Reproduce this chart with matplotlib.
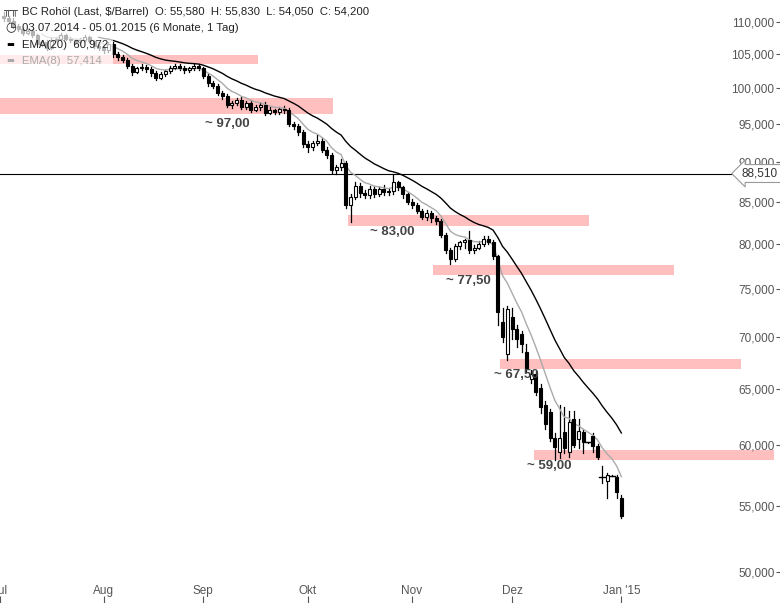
import matplotlib
matplotlib.use("Agg")
import matplotlib.pyplot as plt
import numpy as np
import pandas as pd
from matplotlib.patches import Rectangle
import matplotlib.transforms as mtrans

plt.rcParams["font.family"] = "Liberation Sans"

closes = [110.6,110.2,109.3,108.9,108.3,108.6,107.9,106.5,106.8,106.0,107.2,107.4,107.9,107.3,107.1,106.8,107.2,107.6,107.0,106.3,106.0,
          105.6,106.6,105.0,104.6,104.2,103.3,102.4,102.9,103.1,102.8,102.2,101.5,102.1,102.5,103.0,103.2,102.9,102.6,102.9,103.2,102.9,
          101.8,100.7,100.4,99.3,98.9,97.6,97.9,98.3,97.4,97.9,97.0,97.3,97.7,96.6,96.9,96.7,97.1,96.9,95.0,94.7,
          93.9,92.4,91.9,92.5,92.8,91.6,90.9,88.9,89.3,89.8,84.6,85.6,86.9,86.1,85.8,86.6,86.0,86.6,86.2,86.3,87.4,86.8,85.9,
          85.0,84.6,83.9,83.2,83.6,83.0,82.7,81.1,79.3,78.3,79.8,80.2,80.5,79.3,79.6,80.0,80.6,80.2,78.6,72.6,
          70.0,72.9,70.8,69.8,69.3,67.0,66.4,64.7,63.3,61.8,60.6,59.8,60.6,59.7,62.0,60.0,61.2,60.2,60.2,59.9,59.0,
          57.3,57.5,57.4,56.1,54.2]
opens = [111.0,110.6,110.2,109.3,108.9,108.3,108.6,107.9,106.5,106.8,106.0,107.2,107.4,107.9,107.3,107.1,106.8,107.2,107.6,107.0,106.3,
         106.0,105.6,106.6,105.0,104.6,104.2,103.3,102.4,102.9,103.1,102.8,102.2,101.5,102.1,102.5,103.0,103.2,102.9,102.6,102.9,103.2,
         102.9,101.8,100.7,100.4,99.3,98.9,97.6,97.9,98.3,97.4,97.9,97.0,97.3,97.7,96.6,96.9,96.7,97.1,96.9,95.0,
         94.7,93.9,92.4,91.9,92.5,92.8,91.6,90.9,88.9,89.3,89.8,84.6,85.6,86.9,86.1,85.8,86.6,86.0,86.6,86.2,86.3,87.4,86.8,
         85.9,85.0,84.6,83.9,83.2,83.6,83.0,82.7,81.1,79.3,78.3,79.8,80.2,80.5,79.3,79.6,80.0,80.6,80.2,78.6,
         71.5,68.3,72.1,70.8,70.3,68.5,65.9,66.4,65.1,63.5,62.9,60.6,59.4,61.1,59.4,62.3,60.5,61.1,60.2,60.8,59.9,
         57.3,57.0,57.4,57.3,55.58]
highs = [111.5,111.0,110.6,109.6,109.2,108.9,108.9,108.1,107.2,107.1,107.5,107.7,108.2,108.1,107.6,107.4,107.5,107.9,107.8,107.2,106.6,
         106.3,106.9,106.9,105.4,104.9,104.5,103.6,103.1,103.5,103.4,103.1,102.5,102.4,102.7,103.2,103.5,103.6,103.3,103.1,103.5,103.6,
         103.1,102.1,101.0,100.6,99.6,99.2,98.2,98.6,98.7,98.2,98.3,97.6,97.9,98.0,97.3,97.1,97.4,97.5,97.2,95.3,
         95.0,94.2,92.7,92.8,93.5,93.1,91.9,91.2,89.6,90.4,90.1,85.9,87.4,87.3,86.5,86.9,87.0,86.8,87.1,86.7,88.5,87.6,87.0,
         86.2,85.3,84.9,84.1,84.0,83.9,83.3,82.9,81.3,79.6,80.0,80.3,80.6,81.5,79.9,80.3,80.9,80.9,80.5,78.8,
         73.0,73.2,73.0,71.2,70.6,69.3,66.8,66.7,65.5,63.9,63.2,61.0,63.5,63.3,63.0,63.0,62.3,61.4,60.25,61.0,60.1,
         58.2,57.6,57.45,57.5,55.83]
lows = [110.2,109.8,109.0,108.6,108.0,108.1,107.6,106.2,106.3,105.7,105.8,107.0,107.2,107.1,106.9,106.5,106.6,107.0,106.8,106.0,105.6,
        105.2,105.3,104.6,104.2,103.8,103.0,102.0,102.2,102.6,102.4,101.8,101.2,101.3,101.8,102.2,102.8,102.6,102.2,102.3,102.6,102.6,
        101.5,100.4,100.1,99.0,98.5,97.3,97.2,97.6,97.1,97.1,96.7,96.8,97.0,96.2,96.4,96.4,96.4,96.6,94.8,94.3,
        93.6,92.0,91.3,91.5,92.2,91.3,90.5,88.6,88.4,88.9,84.3,82.6,85.3,85.6,85.4,85.5,85.6,85.7,85.8,85.8,86.0,86.5,85.5,
        84.7,84.2,83.6,82.9,82.8,82.6,82.3,80.8,79.0,77.8,78.1,79.4,79.6,79.0,79.0,79.4,79.8,80.0,78.3,71.2,
        69.5,67.8,69.8,69.0,68.5,66.6,65.6,64.4,62.8,61.4,60.3,58.7,58.9,59.3,59.0,59.8,59.7,59.3,60.15,59.4,58.8,
        56.8,55.6,57.35,55.6,54.05]

month_labels = ["Jul", "Aug", "Sep", "Okt", "Nov", "Dez", "Jan '15"]
month_pos = [-0.8, 21, 42, 64, 85.9, 107, 130]
ytick_vals = [50, 55, 60, 65, 70, 75, 80, 85, 90, 95, 100, 105, 110]

bands = [(-0.8, 53.5, 103.5, 104.9), (-0.8, 69.3, 96.4, 98.6), (72.5, 123.2, 82.1, 83.4),
         (90.4, 141.1, 76.5, 77.6), (104.5, 155.2, 66.9, 67.9), (111.6, 162.1, 58.7, 59.55)]
band_labels = [("~ 97,00", 42.4, 95.0), ("~ 83,00", 77.1, 81.4), ("~ 77,50", 93.1, 75.9),
               ("~ 67,50", 103.2, 66.3), ("~ 59,00", 110.1, 58.2)]
hline_val = 88.51

fig = plt.figure(figsize=(7.8, 6.03), dpi=100)
ax = fig.add_axes([0, 0, 1, 1])
ax.set_yscale("log")
ax.set_xlim(-0.8, 163.4)
ax.set_ylim(47.83, 113.5)

for x0, x1, lo, hi in bands:
    ax.add_patch(Rectangle((x0, lo), x1 - x0, hi - lo, color="#ffbfbf", lw=0, zorder=1))
for t, x, y in band_labels:
    ax.text(x, y, t, fontsize=9.5, fontweight="bold", color="#444444", va="center", ha="left", zorder=5)

ax.axhline(hline_val, color="black", lw=0.8, zorder=2)

n = len(closes)
idx = np.arange(n)
w = 0.62
for i in range(n):
    o, h, l, c = opens[i], highs[i], lows[i], closes[i]
    ax.plot([i, i], [l, h], color="black", lw=0.9, zorder=3)
    if abs(c - o) < 0.06:
        ax.plot([i - 0.6, i + 0.6], [c, c], color="black", lw=1.0, zorder=4)
        continue
    bull = c >= o
    ax.add_patch(Rectangle((i - w/2, min(o, c)), w, abs(c - o),
                           facecolor="white" if bull else "black", edgecolor="black", lw=0.8, zorder=4))

s = pd.Series(closes)
ema20 = s.ewm(span=20, adjust=False).mean()
ema8 = s.ewm(span=8, adjust=False).mean()
ax.plot(idx[20:], ema20[20:], color="black", lw=1.0, zorder=3)
ax.plot(idx[8:], ema8[8:], color="#aaaaaa", lw=1.0, zorder=3)

ax.set_yticks(ytick_vals)
ax.set_yticklabels([f"{v:d},000" for v in ytick_vals])
ax.yaxis.set_minor_locator(matplotlib.ticker.NullLocator())
ax.yaxis.tick_right()
ax.tick_params(axis="y", length=3, direction="in", pad=-4, labelsize=8.5, labelcolor="#555555", color="#555555")
for lab in ax.get_yticklabels():
    lab.set_horizontalalignment("right")
ax.set_xticks(month_pos)
ax.set_xticklabels([])
ax.tick_params(axis="x", length=5, direction="in", color="#555555")
trans = mtrans.blended_transform_factory(ax.transData, fig.transFigure)
for p, lab in zip(month_pos, month_labels):
    ax.text(p, 1 - 591/603, lab, transform=trans, ha="center", va="center", fontsize=8.5, color="#555555")
for sp in ax.spines.values():
    sp.set_visible(False)

ax.text(0.997, hline_val, "88,510", transform=ax.get_yaxis_transform(), ha="right", va="center",
        fontsize=8.5, color="#333333", zorder=6,
        bbox=dict(boxstyle="larrow,pad=0.25", fc="white", ec="#999999", lw=0.8))

# legend overlay
fig.patches.append(Rectangle((0, 1 - 68/603), 113/780, 68/603, transform=fig.transFigure,
                             facecolor="white", alpha=0.7, lw=0, zorder=10))
fs = 8.2
fig.text(22/780, 1 - 12/603, "BC Rohöl (Last, $/Barrel)  O: 55,580  H: 55,830  L: 54,050  C: 54,200",
         fontsize=fs, va="center", color="#222222", zorder=11)
fig.text(4/780, 1 - 12/603, "\u2565\u2565", fontsize=7, va="center", color="#222222", zorder=11)
fig.text(5/780, 1 - 28/603, "\u25F7", fontsize=9, va="center", color="#222222", zorder=11, family="DejaVu Sans")
fig.text(22/780, 1 - 28/603, "03.07.2014 - 05.01.2015 (6 Monate, 1 Tag)", fontsize=fs, va="center",
         color="#222222", zorder=11)
fig.text(6/780, 1 - 45/603, "\u25AC", fontsize=6, va="center", color="black", zorder=11, family="DejaVu Sans")
fig.text(22/780, 1 - 45/603, "EMA(20)  60,972", fontsize=fs, va="center", color="#222222", zorder=11)
fig.text(6/780, 1 - 61/603, "\u25AC", fontsize=6, va="center", color="#aaaaaa", zorder=11, family="DejaVu Sans")
fig.text(22/780, 1 - 61/603, "EMA(8)  57,414", fontsize=fs, va="center", color="#aaaaaa", zorder=11)

fig.savefig("out.png", dpi=100)
